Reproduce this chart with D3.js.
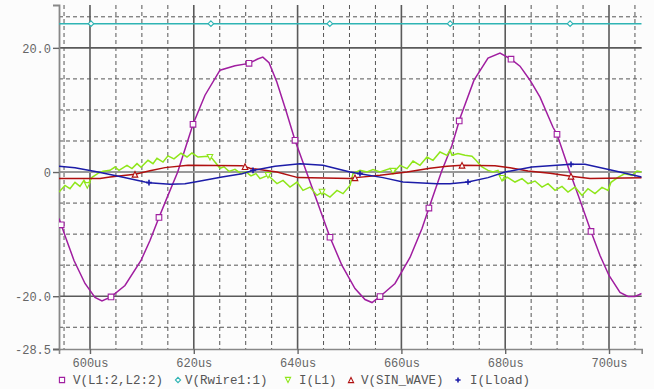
<!DOCTYPE html>
<html lang="en">
<head>
<meta charset="UTF-8">
<title>PSpice waveforms</title>
<script src="https://cdn.jsdelivr.net/npm/d3@7/dist/d3.min.js"></script>
<style>
  html, body { margin: 0; padding: 0; background: #fcfcfc; }
  svg { display: block; }
  .tick text { font-family: "Liberation Mono", "DejaVu Sans Mono", monospace; font-size: 12px; fill: #666; }
  .legend text { font-family: "Liberation Mono", "DejaVu Sans Mono", monospace; font-size: 12.5px; fill: #555; }
</style>
</head>
<body>
<svg width="654" height="389"></svg>
<script>
// time axis in us, values in V or A
var xTicks = [600, 620, 640, 660, 680, 700];
var yTicks = [20, 0, -20, -28.5];

var vL1L2 = [[594.03,-7.47],[595.38,-10.69],[596.92,-14.24],[599.04,-17.95],[600.96,-20.21],[602.31,-20.76],[604.05,-20.11],[606.74,-18.27],[609.83,-14.24],[611.56,-11.02],[613.29,-7.31],[615.03,-3.76],[616.9,0],[619.85,7.69],[622.16,12.37],[625.05,16.4],[627.94,17.1],[630.64,17.5],[632.3,18.2],[633.3,18.5],[634.5,17.6],[636.0,14.5],[637.8,9.8],[639.5,5.11],[641.71,0],[643.68,-4.56],[646.24,-10.5],[648.55,-15.05],[651.06,-18.76],[652.99,-20.53],[654.34,-21.02],[655.88,-20.05],[658.77,-17.95],[661.66,-13.76],[663.97,-9.1],[665.3,-5.8],[667.7,0],[669.75,4.3],[671.29,8.66],[673.99,14.79],[676.69,18.34],[679.0,19.15],[681.12,18.18],[682.85,17.05],[684.78,14.79],[686.71,12.05],[689.21,7.21],[689.98,6.08],[692.45,0],[694.41,-4.56],[696.53,-9.56],[698.27,-13.44],[700.0,-16.66],[702.12,-19.4],[703.66,-20.05],[705.01,-20.05],[706.3,-19.56]];
var vL1L2Marks = [594.46, 604.05, 613.29, 619.85, 630.64, 639.5, 646.24, 655.88, 665.3, 671.14, 681.12, 689.98, 696.53];

var vRwire = [[594.03,23.9],[706.3,23.9]];
var vRwireMarks = [600.2, 623.3, 646.2, 669.4, 692.5];

var iL1 = [[594.03,-3.23],[595.18,-2.15],[596.15,-2.68],[597.11,-1.66],[598.07,-2.31],[598.84,-1.34],[599.48,-2.15],[600.39,-0.85],[601.54,-0.21],[602.5,0.11],[603.85,0.27],[604.82,0.81],[605.59,0.27],[607.13,1.08],[608.09,0.55],[609.06,1.35],[609.83,0.76],[611.18,1.89],[612.14,1.35],[612.91,2.21],[614.07,1.61],[615.03,2.61],[616.18,2.13],[617.53,3.02],[618.69,2.42],[619.65,3.06],[620.81,2.42],[622.74,2.53],[623.51,2.21],[624.28,1.4],[625.05,0.6],[625.82,0.84],[626.78,0.11],[627.94,0.44],[629.09,-0.26],[630.06,0.03],[631.02,-0.61],[631.98,-0.26],[632.76,-1.06],[634.3,-0.53],[636.03,-1.87],[637.19,-1.34],[638.54,-2.42],[639.88,-1.61],[641.04,-2.95],[642.39,-2.42],[643.74,-3.76],[644.7,-3.23],[646.24,-4.03],[647.59,-2.95],[648.75,-3.48],[650.1,-2.15],[650.68,-0.26],[652.03,0.27],[653.37,0],[654.53,0.39],[655.88,0],[657.8,0.55],[658.57,0],[659.73,1.08],[661.08,0.55],[662.24,1.77],[663.58,1.08],[664.93,2.42],[666.09,1.89],[667.44,3.23],[668.79,2.69],[669.36,3.5],[669.75,2.69],[670.9,2.97],[672.25,2.69],[673.6,2.53],[674.37,1.89],[674.95,1.35],[675.53,0.81],[676.69,0.27],[677.65,0],[678.61,0.27],[679.58,-1.34],[680.35,-0.81],[681.89,-1.61],[683.24,-1.06],[684.39,-1.87],[685.74,-1.45],[687.09,-2.42],[688.25,-1.87],[689.6,-2.95],[690.94,-2.31],[692.1,-3.23],[693.45,-2.42],[694.8,-3.76],[695.95,-2.68],[697.3,-3.48],[698.65,-2.47],[699.81,-2.95],[700.39,-1.66],[701.73,-0.85],[703.08,-0.26],[704.43,-0.53],[705.39,0.16],[706.3,0]];
var iL1Marks = [599.48, 623.12, 634.3, 644.7, 658.38, 679.38];

var vSin = [[594.03,-1.06],[601.93,-1.06],[603.85,-0.81],[608.67,-0.37],[611.56,0.19],[614.45,0.71],[618.88,1.08],[629.29,1.03],[630.83,0.6],[636.03,0],[640.08,-0.9],[650.1,-1.06],[651.25,-0.9],[655.88,-0.53],[661.08,0],[665.51,0.6],[668.79,0.92],[671.68,1.08],[678.03,1.03],[680.92,0.68],[684.39,0.16],[688.63,-0.21],[692.68,-0.69],[696.34,-1.06],[706.3,-0.94]];
var vSinMarks = [608.67, 629.87, 651.06, 671.68, 692.68];

var iLload = [[594.03,0.92],[597.11,0.68],[601.54,0],[606.17,-0.81],[610.6,-1.61],[611.37,-1.71],[615.41,-1.98],[618.3,-1.9],[620.23,-1.61],[625.43,-0.81],[629.29,-0.26],[631.41,0.27],[635.65,0.92],[640.46,1.35],[644.89,1.08],[650.1,0],[652.02,-0.26],[656.45,-0.9],[660.31,-1.61],[666.86,-1.87],[669.36,-1.87],[672.83,-1.61],[676.69,-0.9],[679.96,0],[685.16,0.81],[692.68,1.24],[695.38,1.24],[700.58,0.27],[706.3,-0.81]];
var iLloadMarks = [611.37, 631.41, 652.02, 672.83, 692.68];

var series = [
  {name: "V(L1:2,L2:2)", data: vL1L2, marks: vL1L2Marks, color: "#a01ea0", sym: "square", lx: 62, tx: 73},
  {name: "V(Rwire1:1)", data: vRwire, marks: vRwireMarks, color: "#2fb4b4", sym: "diamond", lx: 178, tx: 185},
  {name: "I(L1)", data: iL1, marks: iL1Marks, color: "#8fe61a", sym: "tdown", lx: 288, tx: 299},
  {name: "V(SIN_WAVE)", data: vSin, marks: vSinMarks, color: "#b01010", sym: "tup", lx: 351, tx: 361},
  {name: "I(Lload)", data: iLload, marks: iLloadMarks, color: "#1c1ca8", sym: "plus", lx: 458, tx: 470}
];

var svg = d3.select("svg");
var padL = 59, padR = 641.7, padT = 5, padB = 349;

var x = d3.scaleLinear().domain([594.03, 706.3]).range([padL, padR]);
var y = d3.scaleLinear().domain([-28.5, 26.9]).range([padB, padT]);

// grid
var g = svg.append("g");
var minorX = d3.range(595, 706, 5).filter(function(d) { return d % 20 != 0; });
var minorY = [25, 15, 10, 5, -5, -10, -15, -25];

g.selectAll(".mx").data(minorX).enter().append("line")
  .attr("x1", function(d) { return x(d); }).attr("x2", function(d) { return x(d); })
  .attr("y1", padT).attr("y2", padB)
  .attr("stroke", "#555").attr("stroke-width", 1).attr("stroke-dasharray", "4,3");
g.selectAll(".my").data(minorY).enter().append("line")
  .attr("x1", padL).attr("x2", padR)
  .attr("y1", function(d) { return y(d); }).attr("y2", function(d) { return y(d); })
  .attr("stroke", "#555").attr("stroke-width", 1).attr("stroke-dasharray", "4,3");
g.selectAll(".Mx").data(xTicks).enter().append("line")
  .attr("x1", function(d) { return x(d); }).attr("x2", function(d) { return x(d); })
  .attr("y1", padT).attr("y2", padB)
  .attr("stroke", "#5a5a5a").attr("stroke-width", 1.6);
g.selectAll(".My").data([20, -20]).enter().append("line")
  .attr("x1", padL).attr("x2", padR)
  .attr("y1", function(d) { return y(d); }).attr("y2", function(d) { return y(d); })
  .attr("stroke", "#5a5a5a").attr("stroke-width", 1.6);
g.append("line").attr("x1", padL).attr("x2", padR)
  .attr("y1", y(0)).attr("y2", y(0))
  .attr("stroke", "#999").attr("stroke-width", 2);

// axes
var xAxis = d3.axisBottom(x).tickValues(xTicks).tickSize(5).tickPadding(4)
  .tickFormat(function(d) { return d + "us"; });
var ax = svg.append("g").attr("transform", "translate(0," + padB + ")").call(xAxis);
ax.select(".domain").attr("stroke", "#888").attr("stroke-width", 1.6);
ax.selectAll(".tick line").attr("stroke", "#666").attr("stroke-width", 1.4);

var yAxis = d3.axisLeft(y).tickValues(yTicks).tickSize(6).tickPadding(2)
  .tickFormat(function(d) { return d == 0 ? "0" : d.toFixed(1); });
var ay = svg.append("g").attr("transform", "translate(" + padL + ",0)").call(yAxis);
ay.select(".domain").attr("stroke", "#888").attr("stroke-width", 1.8);
ay.selectAll(".tick line").attr("stroke", "#666").attr("stroke-width", 1.4);
ay.selectAll(".tick text").attr("dy", "0.35em");

// traces
svg.append("clipPath").attr("id", "clip").append("rect")
  .attr("x", padL).attr("y", padT).attr("width", padR - padL).attr("height", padB - padT);
var plot = svg.append("g").attr("clip-path", "url(#clip)");
var line = d3.line().x(function(d) { return x(d[0]); }).y(function(d) { return y(d[1]); });

function symPath(s, r) {
  if (s == "square") return "M" + -r + "," + -r + "H" + r + "V" + r + "H" + -r + "Z";
  if (s == "diamond") return "M0," + -r + "L" + r + ",0L0," + r + "L" + -r + ",0Z";
  if (s == "tup") return "M0," + -r + "L" + r + "," + r + "H" + -r + "Z";
  if (s == "tdown") return "M0," + r + "L" + r + "," + -r + "H" + -r + "Z";
  return "M" + -r + ",0H" + r + "M0," + -r + "V" + r;
}

var bis = d3.bisector(function(d) { return d[0]; }).left;
function valueAt(data, t) {
  var i = bis(data, t);
  if (i <= 0) return data[0][1];
  if (i >= data.length) return data[data.length - 1][1];
  var a = data[i - 1], b = data[i];
  return a[1] + (b[1] - a[1]) * (t - a[0]) / (b[0] - a[0]);
}

series.forEach(function(s) {
  plot.append("path").datum(s.data).attr("d", line)
    .attr("fill", "none").attr("stroke", s.color).attr("stroke-width", 1.5);
  plot.selectAll(null).data(s.marks).enter().append("path")
    .attr("transform", function(t) { return "translate(" + x(t) + "," + y(valueAt(s.data, t)) + ")"; })
    .attr("d", symPath(s.sym, 2.8))
    .attr("fill", s.sym == "plus" ? "none" : "#fcfcfc")
    .attr("stroke", s.color).attr("stroke-width", s.sym == "plus" ? 1.6 : 1.1);
});

// legend
var lg = svg.append("g").attr("class", "legend");
series.forEach(function(s) {
  lg.append("path").attr("transform", "translate(" + s.lx + ",380)")
    .attr("d", symPath(s.sym, 2.6))
    .attr("fill", s.sym == "plus" ? "none" : "#fcfcfc")
    .attr("stroke", s.color).attr("stroke-width", s.sym == "plus" ? 1.6 : 1.1);
  lg.append("text").attr("x", s.tx).attr("y", 384).text(s.name);
});
</script>
</body>
</html>
